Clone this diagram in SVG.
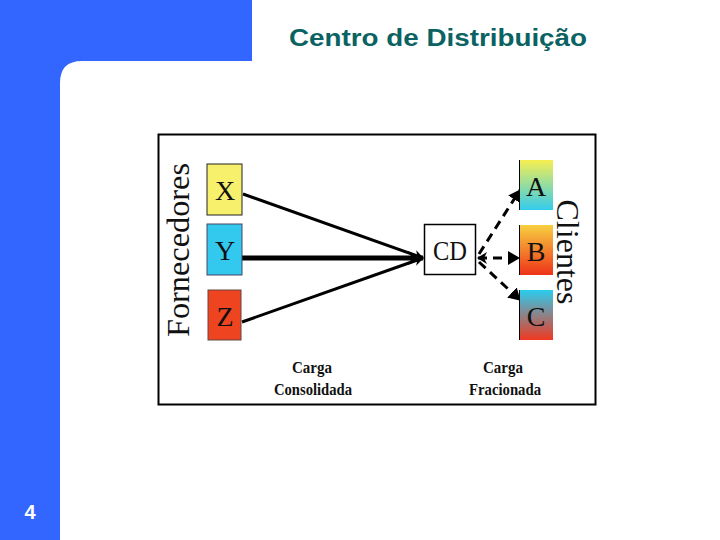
<svg xmlns="http://www.w3.org/2000/svg" width="720" height="540" viewBox="0 0 720 540">
<style>
.lbl{font-family:"Liberation Serif","DejaVu Serif",serif;fill:#111;}
.node text{font-family:"Liberation Serif","DejaVu Serif",serif;font-size:28px;fill:#111;text-anchor:middle;}
.bold{font-family:"Liberation Serif",serif;font-weight:bold;font-size:16px;fill:#111;text-anchor:middle;}
.solid{stroke:#000;stroke-width:3;fill:none;}
.dash{stroke:#000;stroke-width:3;fill:none;stroke-dasharray:9,6;}
</style>
<defs>
<marker id="ah" markerWidth="10" markerHeight="10" refX="9" refY="5" orient="auto" markerUnits="userSpaceOnUse" viewBox="0 0 10 10">
<path d="M0,0 L10,5 L0,10 L3,5 Z" fill="#000"/>
</marker>
<marker id="ahBig" markerWidth="16" markerHeight="16" refX="15" refY="8" orient="auto" markerUnits="userSpaceOnUse" viewBox="0 0 16 16">
<path d="M0,1 L16,8 L0,15 L4,8 Z" fill="#000"/>
</marker>
<marker id="ahTri" markerWidth="12" markerHeight="14" refX="11" refY="7" orient="auto" markerUnits="userSpaceOnUse" viewBox="0 0 12 14">
<path d="M0,0 L12,7 L0,14 Z" fill="#000"/>
</marker>
<marker id="ahStart" markerWidth="10" markerHeight="12" refX="1" refY="6" orient="auto" markerUnits="userSpaceOnUse" viewBox="0 0 10 12">
<path d="M10,0 L0,6 L10,12 L7,6 Z" fill="#000"/>
</marker>
<linearGradient id="gA" x1="0" y1="0" x2="0" y2="1"><stop offset="0" stop-color="#F6EE50"/><stop offset="1" stop-color="#33CCEE"/></linearGradient>
<linearGradient id="gB" x1="0" y1="0" x2="0" y2="1"><stop offset="0" stop-color="#F8D040"/><stop offset="1" stop-color="#EE3318"/></linearGradient>
<linearGradient id="gC" x1="0" y1="0" x2="0" y2="1"><stop offset="0" stop-color="#2ACDF0"/><stop offset="1" stop-color="#F03820"/></linearGradient>
</defs>
<rect width="720" height="540" fill="#fff"/>
<path d="M0,0 H252 V61 H82 Q60,61 60,83 V540 H0 Z" fill="#3366FF"/>
<text x="289" y="46" font-family="Liberation Sans,Arial,sans-serif" font-weight="bold" font-size="23" fill="#0B6262" textLength="298" lengthAdjust="spacingAndGlyphs">Centro de Distribuição</text>
<text x="30" y="519" font-family="Liberation Sans,Arial,sans-serif" font-weight="bold" font-size="20" fill="#fff" text-anchor="middle">4</text>
<rect x="158.5" y="134.5" width="437" height="270" fill="#fff" stroke="#000" stroke-width="2"/>
<text class="lbl" font-size="31" transform="translate(189,250) rotate(-90)" text-anchor="middle" textLength="174" lengthAdjust="spacingAndGlyphs">Fornecedores</text>
<text class="lbl" font-size="31" transform="translate(557,252) rotate(90)" text-anchor="middle" textLength="105" lengthAdjust="spacingAndGlyphs">Clientes</text>
<g id="connectors">
<line class="solid" x1="243" y1="194" x2="423" y2="258" marker-end="url(#ah)"/>
<line class="solid" x1="242" y1="322" x2="423" y2="258" marker-end="url(#ah)"/>
<line x1="242" y1="258" x2="423" y2="258" stroke="#000" stroke-width="5" marker-end="url(#ahBig)"/>
<line class="dash" x1="479" y1="254" x2="520" y2="190" marker-end="url(#ahTri)"/>
<line class="dash" x1="479" y1="262" x2="520" y2="300" marker-end="url(#ahTri)"/>
<line class="dash" x1="478" y1="258" x2="519" y2="258" marker-start="url(#ahStart)" marker-end="url(#ahTri)"/>
</g>
<g id="X" class="node"><rect x="207" y="164" width="35" height="51" fill="#F6F06C" stroke="#222" stroke-width="1"/><text x="225" y="200">X</text></g>
<g id="Y" class="node"><rect x="207" y="224" width="35" height="51" fill="#33C8EE" stroke="#446" stroke-width="1"/><text x="225" y="260">Y</text></g>
<g id="Z" class="node"><rect x="208" y="290" width="33" height="50" fill="#EE4420" stroke="#644" stroke-width="1"/><text x="225" y="326">Z</text></g>
<g id="CD" class="node"><rect x="424.5" y="224.5" width="51" height="50" fill="#fff" stroke="#000" stroke-width="1.5"/><text x="450" y="260" textLength="34" lengthAdjust="spacingAndGlyphs">CD</text></g>
<g id="A" class="node"><rect x="519" y="160" width="34" height="50" fill="url(#gA)"/><line x1="519.5" y1="160" x2="519.5" y2="210" stroke="#000"/><text x="536" y="196">A</text></g>
<g id="B" class="node"><rect x="519" y="225" width="34" height="50" fill="url(#gB)"/><line x1="519.5" y1="225" x2="519.5" y2="275" stroke="#000"/><text x="536" y="261">B</text></g>
<g id="C" class="node"><rect x="519" y="290" width="34" height="50" fill="url(#gC)"/><line x1="519.5" y1="290" x2="519.5" y2="340" stroke="#000"/><text x="536" y="326">C</text></g>
<text class="bold" x="312" y="373" textLength="40" lengthAdjust="spacingAndGlyphs">Carga</text>
<text class="bold" x="313" y="395" textLength="78" lengthAdjust="spacingAndGlyphs">Consolidada</text>
<text class="bold" x="503" y="373" textLength="40" lengthAdjust="spacingAndGlyphs">Carga</text>
<text class="bold" x="505" y="395" textLength="72" lengthAdjust="spacingAndGlyphs">Fracionada</text>
</svg>
